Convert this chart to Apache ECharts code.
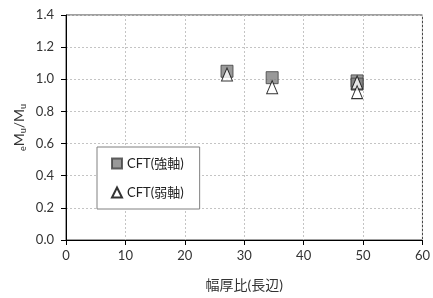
<!DOCTYPE html>
<html>
<head>
<meta charset="utf-8">
<script src="https://cdn.jsdelivr.net/npm/echarts@6/dist/echarts.min.js"></script>
<style>
  html, body { margin: 0; padding: 0; background: #fff; }
  #chart { width: 433px; height: 298px; }
</style>
</head>
<body>
<div id="chart"></div>
<script>
// 幅厚比(長辺) vs eMu/Mu
var strongName = 'CFT(強軸)';
var weakName = 'CFT(弱軸)';
var strongX = [27.1, 34.7, 49.0, 49.0];
var strongY = [1.05, 1.01, 0.99, 0.97];
var weakX = [27.1, 34.7, 49.0, 49.0];
var weakY = [1.03, 0.95, 0.98, 0.92];

var FONT = "Lato, 'Noto Sans CJK JP', sans-serif";

function pairs(xs, ys) {
  var out = [];
  for (var i = 0; i < xs.length; i++) out.push([xs[i], ys[i]]);
  return out;
}

var chart = echarts.init(document.getElementById('chart'), null, { renderer: 'canvas' });

var option = {
  animation: false,
  backgroundColor: '#fff',
  textStyle: { fontFamily: FONT },
  grid: {
    left: 66, right: 7, top: 15, bottom: 58,
    show: true,
    borderColor: '#404040',
    borderWidth: 1
  },
  legend: {
    left: 97, top: 147,
    orient: 'vertical',
    backgroundColor: '#fff',
    borderColor: '#808080',
    borderWidth: 1,
    padding: [10, 16, 10, 14],
    itemGap: 16,
    itemWidth: 10,
    itemHeight: 10,
    textStyle: { fontFamily: FONT, fontSize: 13, color: '#222' },
    data: [strongName, weakName]
  },
  xAxis: {
    type: 'value',
    min: 0, max: 60, interval: 10,
    name: '幅厚比(長辺)',
    nameLocation: 'middle',
    nameGap: 38,
    nameMoveOverlap: false,
    nameTextStyle: { fontFamily: FONT, fontSize: 14, color: '#333' },
    axisLine: { show: true, lineStyle: { color: '#000', width: 1 } },
    axisTick: { show: true, length: 5, inside: false, lineStyle: { color: '#000' } },
    axisLabel: { margin: 9, fontFamily: FONT, fontSize: 13, color: '#333' },
    splitLine: { show: true, lineStyle: { color: '#c4c4c4', type: [2, 2] } }
  },
  yAxis: {
    type: 'value',
    min: 0, max: 1.4, interval: 0.2,
    name: '{s|e}{m|M}{s|u}{m|/M}{s|u}',
    nameLocation: 'middle',
    nameRotate: 90,
    nameGap: 38,
    nameMoveOverlap: false,
    nameTextStyle: {
      color: '#333',
      rich: {
        m: { fontFamily: FONT, fontSize: 14, color: '#333', lineHeight: 18, verticalAlign: 'middle' },
        s: { fontFamily: FONT, fontSize: 9, color: '#333', lineHeight: 18, verticalAlign: 'bottom', padding: [6, 0, 0, 0] }
      }
    },
    axisLine: { show: true, lineStyle: { color: '#000', width: 1 } },
    axisTick: { show: true, length: 5, inside: false, lineStyle: { color: '#000' } },
    axisLabel: {
      margin: 12, fontFamily: FONT, fontSize: 13, color: '#333',
      formatter: function (v) { return v.toFixed(1); }
    },
    splitLine: { show: true, lineStyle: { color: '#c4c4c4', type: [2, 2] } }
  },
  series: [
    {
      name: strongName,
      type: 'scatter',
      symbol: 'rect',
      symbolSize: 12,
      itemStyle: { color: '#808080', borderColor: '#404040', borderWidth: 1 },
      data: pairs(strongX, strongY)
    },
    {
      name: weakName,
      type: 'scatter',
      symbol: 'triangle',
      symbolSize: [11, 13],
      itemStyle: { color: '#fff', borderColor: '#000', borderWidth: 1 },
      data: pairs(weakX, weakY)
    }
  ]
};

chart.setOption(option);
</script>
</body>
</html>
